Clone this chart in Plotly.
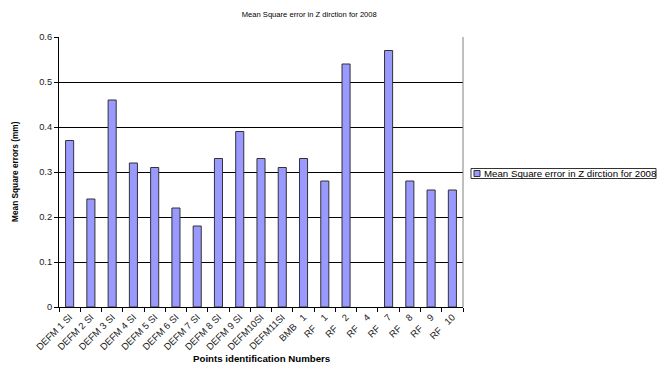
import plotly.graph_objects as go

NB = "\u00a0"

# Point identifiers along the x axis
points = [
    "DEFM 1 SI", "DEFM 2 SI", "DEFM 3 SI", "DEFM 4 SI", "DEFM 5 SI",
    "DEFM 6 SI", "DEFM 7 SI", "DEFM 8 SI", "DEFM 9 SI", "DEFM10SI",
    "DEFM11SI", "BMB" + NB * 3 + "1", "RF" + NB * 4 + "1", "RF" + NB * 4 + "2",
    "RF" + NB * 4 + "4", "RF" + NB * 4 + "7", "RF" + NB * 4 + "8",
    "RF" + NB * 4 + "9", "RF" + NB * 3 + "10",
]

# Mean square error in Z (mm); RF 4 has no value
mse_z_2008 = [
    0.37, 0.24, 0.46, 0.32, 0.31, 0.22, 0.18, 0.33, 0.39, 0.33,
    0.31, 0.33, 0.28, 0.54, None, 0.57, 0.28, 0.26, 0.26,
]

series_name = "Mean Square error in Z dirction for 2008"
font_family = "Liberation Sans, Arial, sans-serif"
bar_fill = "#9999FF"
bar_edge = "#333333"

# Figure geometry (pixels)
W, H = 658, 366
L, R, T, B = 59, 195, 37, 59
plot_w = W - L - R
plot_h = H - T - B


def px_x(x):
    """Pixel column -> paper x."""
    return (x - L) / plot_w


def px_y(y):
    """Pixel row (from top) -> paper y."""
    return (H - B - y) / plot_h


fig = go.Figure()
fig.add_trace(go.Bar(
    x=points,
    y=mse_z_2008,
    name=series_name,
    marker=dict(color=bar_fill, line=dict(color=bar_edge, width=1)),
    showlegend=False,
))

fig.update_layout(
    width=W,
    height=H,
    margin=dict(l=L, r=R, t=T, b=B),
    paper_bgcolor="white",
    plot_bgcolor="white",
    font=dict(family=font_family, size=9, color="black"),
    bargap=0.62,
    title=dict(
        text=series_name,
        font=dict(size=7.6, color="black"),
        x=0.47, xanchor="center",
        y=1 - 14 / H, yanchor="middle",
    ),
    xaxis=dict(
        type="category",
        tickangle=-45,
        tickson="boundaries",
        ticks="outside",
        ticklen=4,
        tickcolor="black",
        showline=True,
        linecolor="black",
        linewidth=1,
        showgrid=False,
        tickfont=dict(size=9.5, color="#222222"),
    ),
    yaxis=dict(
        range=[0, 0.6],
        dtick=0.1,
        ticks="outside",
        ticklen=4,
        tickcolor="black",
        showline=True,
        linecolor="black",
        linewidth=1,
        showgrid=True,
        gridcolor="black",
        gridwidth=1,
        zeroline=False,
        tickfont=dict(size=9.3, color="#222222"),
    ),
)

# Axis titles
fig.add_annotation(
    text="<b>Points identification Numbers</b>",
    xref="paper", yref="paper", x=0.5, y=px_y(358),
    xanchor="center", yanchor="middle", showarrow=False,
    font=dict(size=9.7),
)
fig.add_annotation(
    text="<b>Mean Square errors (mm)</b>",
    xref="paper", yref="paper", x=px_x(15), y=0.5,
    xanchor="center", yanchor="middle", showarrow=False, textangle=-90,
    font=dict(size=8.3),
)

# Gray plot-area frame on the right side
fig.add_shape(
    type="line", xref="paper", yref="paper",
    x0=1, x1=1, y0=0, y1=1,
    line=dict(color="#808080", width=1),
)

# Legend box with a single swatch
fig.add_shape(
    type="rect", xref="paper", yref="paper",
    x0=px_x(471), x1=px_x(656), y0=px_y(178.5), y1=px_y(168.5),
    line=dict(color="#333333", width=1), fillcolor="white",
)
fig.add_shape(
    type="rect", xref="paper", yref="paper",
    x0=px_x(474), x1=px_x(480), y0=px_y(176.5), y1=px_y(170.5),
    line=dict(color=bar_edge, width=1), fillcolor=bar_fill,
)
fig.add_annotation(
    text=series_name,
    xref="paper", yref="paper", x=px_x(482), y=px_y(173.5),
    xanchor="left", yanchor="middle", showarrow=False,
    font=dict(size=9.7), xshift=0,
)

fig.write_html("out.html")
